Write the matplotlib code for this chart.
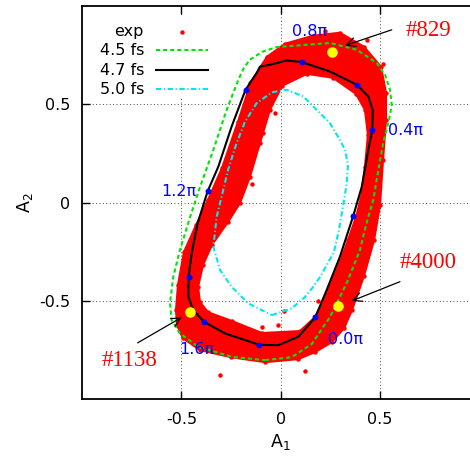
import matplotlib
matplotlib.use('Agg')
import matplotlib.pyplot as plt
from matplotlib.path import Path
from matplotlib.patches import PathPatch, Rectangle

# ---------------- data ----------------
# experimental point cloud: outer and inner edges of the band + stray points
exp_outer_x = [0.173, 0.258, 0.319, 0.359, 0.419, 0.470, 0.500, 0.515, 0.530, 0.530,
               0.505, 0.419, 0.298, 0.163, 0.022, -0.069, -0.149, -0.215, -0.295, -0.366,
               -0.426, -0.487, -0.517, -0.527, -0.522, -0.492, -0.406, -0.250, -0.079, 0.087]
exp_outer_y = [-0.760, -0.709, -0.638, -0.546, -0.373, -0.190, -0.012, 0.217, 0.421, 0.559,
               0.691, 0.793, 0.864, 0.849, 0.808, 0.742, 0.615, 0.411, 0.177, 0.014,
               -0.114, -0.251, -0.419, -0.546, -0.623, -0.689, -0.750, -0.786, -0.811, -0.796]
exp_inner_x = [0.097, 0.173, 0.233, 0.298, 0.339, 0.379, 0.404, 0.424, 0.439, 0.424,
               0.379, 0.263, 0.132, 0.007, -0.054, -0.104, -0.155, -0.205, -0.265, -0.346,
               -0.391, -0.416, -0.406, -0.366, -0.245, -0.094]
exp_inner_y = [-0.653, -0.582, -0.460, -0.302, -0.190, -0.073, 0.024, 0.182, 0.345, 0.472,
               0.553, 0.635, 0.655, 0.594, 0.472, 0.304, 0.131, -0.002, -0.098, -0.215,
               -0.317, -0.429, -0.506, -0.557, -0.602, -0.663]
exp_stray_x = [0.513, -0.304, 0.123, 0.018, -0.096, -0.012, -0.029, -0.088, -0.213, -0.146,
               -0.221, 0.223, 0.433, 0.189, -0.070, 0.013, -0.155]
exp_stray_y = [0.706, -0.877, -0.855, -0.551, -0.631, -0.623, 0.455, 0.353, 0.031, 0.095,
               0.379, 0.871, 0.825, -0.499, 0.726, 0.794, 0.608]

# simulated trajectories
fs45_x = [-0.079, 0.055, 0.156, 0.248, 0.332, 0.399, 0.429, 0.466, 0.496, 0.516, 0.545,
          0.559, 0.550, 0.525, 0.483, 0.382, 0.248, 0.081, -0.020, -0.094, -0.155, -0.185,
          -0.213, -0.272, -0.339, -0.406, -0.456, -0.507, -0.541, -0.557, -0.549, -0.507,
          -0.415, -0.247]
fs45_y = [-0.801, -0.786, -0.719, -0.582, -0.409, -0.241, -0.114, 0.014, 0.192, 0.304, 0.421,
          0.497, 0.574, 0.650, 0.711, 0.778, 0.812, 0.799, 0.791, 0.767, 0.727, 0.686,
          0.625, 0.472, 0.268, 0.080, -0.073, -0.241, -0.378, -0.511, -0.597, -0.665,
          -0.733, -0.784]

fs47_x = [0.174, 0.2315, 0.298, 0.365, 0.408, 0.441, 0.461, 0.463, 0.441, 0.384, 0.248,
          0.106, 0.030, -0.054, -0.104, -0.121, -0.177, -0.247, -0.314, -0.368, -0.419,
          -0.448, -0.464, -0.465, -0.440, -0.386, -0.280, -0.108, -0.012, 0.089]
fs47_y = [-0.583, -0.444, -0.275, -0.068, 0.081, 0.268, 0.369, 0.472, 0.540, 0.599, 0.667,
          0.715, 0.723, 0.701, 0.692, 0.659, 0.574, 0.387, 0.183, 0.057, -0.108,
          -0.258, -0.377, -0.479, -0.546, -0.606, -0.665, -0.723, -0.725, -0.682]

fs50_x = [-0.045, 0.055, 0.122, 0.163, 0.198, 0.268, 0.293, 0.315, 0.331, 0.339, 0.324,
          0.298, 0.248, 0.181, 0.114, 0.030, -0.044, -0.121, -0.180, -0.225, -0.265,
          -0.289, -0.322, -0.339, -0.305, -0.247, -0.163]
fs50_y = [-0.572, -0.538, -0.480, -0.429, -0.378, -0.251, -0.139, -0.012, 0.090, 0.192, 0.268,
          0.319, 0.404, 0.472, 0.540, 0.574, 0.561, 0.506, 0.411, 0.294, 0.166,
          0.065, -0.071, -0.224, -0.343, -0.428, -0.512]

# phase markers on the 4.7 fs trajectory (every 0.2 pi)
phase_x = [0.174, 0.365, 0.461, 0.384, 0.106, -0.177, -0.368, -0.464, -0.386, -0.108]
phase_y = [-0.583, -0.068, 0.369, 0.599, 0.715, 0.574, 0.057, -0.377, -0.606, -0.723]
phase_labels = ['0.0π', '0.4π', '0.8π', '1.2π', '1.6π']
phase_label_x = [0.328, 0.626, 0.147, -0.513, -0.423]
phase_label_y = [-0.695, 0.367, 0.871, 0.056, -0.746]

# highlighted shots
shot_labels = ['#829', '#4000', '#1138']
shot_x = [0.260, 0.287, -0.456]
shot_y = [0.764, -0.527, -0.555]
shot_tail_x = [0.559, 0.600, -0.720]
shot_tail_y = [0.879, -0.402, -0.713]
shot_head_x = [0.324, 0.357, -0.498]
shot_head_y = [0.799, -0.500, -0.583]
shot_text_x = [0.629, 0.600, -0.901]
shot_text_y = [0.876, -0.304, -0.801]

tick_vals = [-0.5, 0, 0.5]
tick_labels = ['-0.5', '0', '0.5']

legend_labels = ['exp', '4.5 fs', '4.7 fs', '5.0 fs']

# ---------------- figure ----------------
plt.rcParams['font.family'] = ['DejaVu Sans']
fig = plt.figure(figsize=(4.70, 4.57), dpi=100)
ax = fig.add_axes([0.17447, 0.12626, 0.84553, 0.86061])
ax.set_xlim(-1, 1)
ax.set_ylim(-1, 1)

RED = '#ff0000'
GREEN = '#00e600'
CYAN = '#00e8ee'
BLUE = '#0000ff'

# exp band as a ring path
outer = list(zip(exp_outer_x, exp_outer_y))
inner = list(zip(exp_inner_x, exp_inner_y))[::-1]
verts = outer + [outer[0]] + inner + [inner[0]]
codes = ([Path.MOVETO] + [Path.LINETO] * (len(outer) - 1) + [Path.CLOSEPOLY] +
         [Path.MOVETO] + [Path.LINETO] * (len(inner) - 1) + [Path.CLOSEPOLY])
band = PathPatch(Path(verts, codes), facecolor=RED, edgecolor=RED, lw=1.5, zorder=2)
ax.add_patch(band)
ax.plot(exp_outer_x + exp_inner_x + exp_stray_x, exp_outer_y + exp_inner_y + exp_stray_y,
        'o', color=RED, ms=3.2, mew=0, zorder=2)

def closed(a):
    return list(a) + [a[0]]

ax.plot(closed(fs45_x), closed(fs45_y), color=GREEN, lw=1.5, ls=(0, (2.0, 1.4)), zorder=3)
ax.plot(closed(fs47_x), closed(fs47_y), color='black', lw=1.5, zorder=3.1)
ax.plot(closed(fs50_x), closed(fs50_y), color=CYAN, lw=1.5, ls=(0, (2.6, 1.2, 0.6, 1.2)), zorder=3.2)

ax.plot(phase_x, phase_y, 'o', color=BLUE, ms=4.3, mew=0, zorder=4)
for lab, tx, ty in zip(phase_labels, phase_label_x, phase_label_y):
    ax.text(tx, ty, lab, color=BLUE, fontsize=11.5, ha='center', va='center', zorder=6)

ax.plot(shot_x, shot_y, 'o', color='#ffff00', ms=7.6, mew=0, zorder=5)
for lab, hx, hy, tx, ty, lx, ly in zip(shot_labels, shot_head_x, shot_head_y, shot_tail_x,
                                       shot_tail_y, shot_text_x, shot_text_y):
    ax.annotate('', xy=(hx, hy), xytext=(tx, ty),
                arrowprops=dict(arrowstyle='->', color='black', lw=0.9, mutation_scale=16,
                                shrinkA=0, shrinkB=0), zorder=6)
    ax.text(lx, ly, lab, color=RED, fontsize=16.5, family=['Liberation Serif', 'DejaVu Serif'],
            ha='left', va='center', zorder=6)

# ---------------- legend (gnuplot style, right-aligned text) ----------------
ax.add_patch(Rectangle((0.015, 0.769), 0.32, 0.208, transform=ax.transAxes,
                       facecolor='white', edgecolor='none', zorder=1.5))
leg_y = [0.9347, 0.888, 0.837, 0.788]
styles = [None,
          dict(color=GREEN, lw=1.5, ls=(0, (2.0, 1.4))),
          dict(color='black', lw=1.5),
          dict(color=CYAN, lw=1.5, ls=(0, (2.6, 1.2, 0.6, 1.2)))]
for lab, yy, st in zip(legend_labels, leg_y, styles):
    ax.text(0.156, yy, lab, transform=ax.transAxes, fontsize=11.5, ha='right', va='center', zorder=7)
    if st is None:
        ax.plot([0.251], [yy], 'o', color=RED, ms=3.2, mew=0, transform=ax.transAxes, zorder=7)
    else:
        ax.plot([0.185, 0.316], [yy, yy], transform=ax.transAxes, zorder=7, **st)

# ---------------- axes styling ----------------
ax.set_xticks(tick_vals)
ax.set_xticklabels(tick_labels)
ax.set_yticks(tick_vals)
ax.set_yticklabels(tick_labels)
ax.tick_params(direction='in', length=6, width=1.0, top=True, right=True, labelsize=11.5)
ax.tick_params(axis='x', pad=9)
ax.tick_params(axis='y', pad=8.5)
ax.grid(True, color='0.3', lw=0.7, ls=(0, (1, 2.5)))
ax.set_axisbelow(True)
for s in ax.spines.values():
    s.set_linewidth(1.3)

ax.set_xlabel(r'$\mathregular{A_1}$', fontsize=12.5)
ax.xaxis.set_label_coords(0.498, -0.083)
ax.set_ylabel(r'$\mathregular{A_2}$', fontsize=12.5)
ax.yaxis.set_label_coords(-0.118, 0.499)

fig.savefig('out.png', dpi=100)
